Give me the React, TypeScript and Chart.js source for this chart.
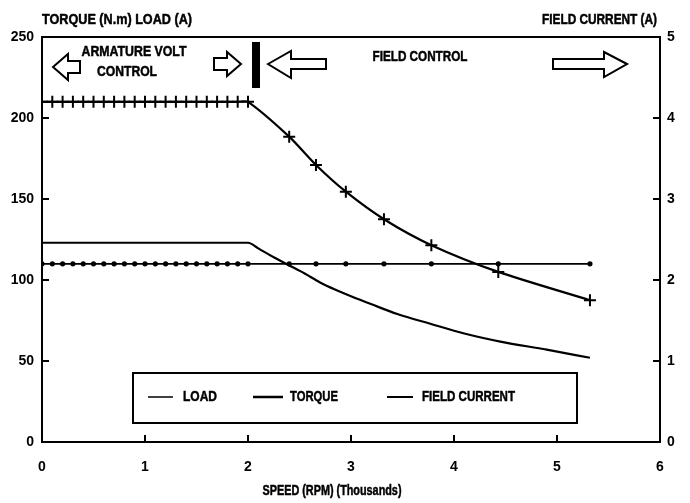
import React, { useEffect, useRef } from "react";
import { Chart, registerables } from "chart.js";

Chart.register(...registerables);

// ---- data ----
const SPEED_K = [
  0, 0.1, 0.2, 0.3, 0.4, 0.5, 0.6, 0.7, 0.8, 0.9, 1.0, 1.1, 1.2, 1.3, 1.4, 1.5, 1.6, 1.7, 1.8, 1.9, 2.0,
  2.4, 2.66, 2.95, 3.32, 3.78, 4.43, 5.32,
];
const LOAD_A = [
  110, 110, 110, 110, 110, 110, 110, 110, 110, 110, 110, 110, 110, 110, 110, 110, 110, 110, 110, 110, 110,
  110, 110, 110, 110, 110, 110, 110,
];
const FIELD_CURRENT_A = [
  4.2, 4.2, 4.2, 4.2, 4.2, 4.2, 4.2, 4.2, 4.2, 4.2, 4.2, 4.2, 4.2, 4.2, 4.2, 4.2, 4.2, 4.2, 4.2, 4.2, 4.2,
  3.77, 3.42, 3.09, 2.75, 2.43, 2.1, 1.75,
];
const TORQUE_SPEED_K = [0, 2.0, 2.1, 2.25, 2.4, 2.55, 2.7, 2.85, 3.0, 3.2, 3.45, 3.77, 4.1, 4.45, 4.9, 5.32];
const TORQUE_NM = [123, 123, 119.5, 114, 109, 104, 98.5, 94, 90, 85, 79, 73, 67, 62, 57, 52];

const X_TICKS = [0, 1, 2, 3, 4, 5, 6];
const LEFT_TICKS = [0, 50, 100, 150, 200, 250];
const RIGHT_TICKS = [0, 1, 2, 3, 4, 5];

const LEGEND_LABELS = ["LOAD", "TORQUE", "FIELD CURRENT"];
const LEFT_TITLE = "TORQUE (N.m) LOAD (A)";
const RIGHT_TITLE = "FIELD CURRENT (A)";
const X_TITLE = "SPEED (RPM) (Thousands)";
const ANNOT_ARM = ["ARMATURE VOLT", "CONTROL"];
const ANNOT_FIELD = "FIELD CONTROL";

const FONT = '"Liberation Sans", Arial, sans-serif';

function poly(ctx: CanvasRenderingContext2D, pts: number[][]) {
  ctx.beginPath();
  ctx.moveTo(pts[0][0], pts[0][1]);
  for (let i = 1; i < pts.length; i++) ctx.lineTo(pts[i][0], pts[i][1]);
  ctx.closePath();
  ctx.fillStyle = "#fff";
  ctx.fill();
  ctx.stroke();
}

function seg(ctx: CanvasRenderingContext2D, x1: number, y1: number, x2: number, y2: number) {
  ctx.beginPath();
  ctx.moveTo(x1, y1);
  ctx.lineTo(x2, y2);
  ctx.stroke();
}

// draw text horizontally condensed to a given width (condensed heavy typeface look)
function fitText(ctx: CanvasRenderingContext2D, s: string, x: number, y: number, align: string, w: number) {
  const m = ctx.measureText(s).width;
  const k = Math.min(1, w / m);
  ctx.save();
  ctx.translate(x, y);
  ctx.scale(k, 1);
  ctx.textAlign = align as CanvasTextAlign;
  ctx.textBaseline = "middle";
  ctx.fillStyle = "#000";
  ctx.strokeStyle = "#000";
  ctx.lineWidth = 0.5;
  ctx.fillText(s, 0, 0);
  ctx.strokeText(s, 0, 0);
  ctx.restore();
}

const overlay = {
  id: "overlay",
  afterDraw(chart: any) {
    const ctx: CanvasRenderingContext2D = chart.ctx;
    const { left, right, top, bottom } = chart.chartArea;
    const sx = chart.scales.x;
    const sy = chart.scales.y;
    const sy1 = chart.scales.y1;
    ctx.save();
    ctx.strokeStyle = "#000";
    ctx.fillStyle = "#000";
    ctx.lineWidth = 2;
    ctx.lineJoin = "miter";
    // top border
    seg(ctx, left - 1, top, right + 1, top);
    // inward ticks
    LEFT_TICKS.slice(1, -1).forEach((v) => {
      const p = sy.getPixelForValue(v);
      seg(ctx, left, p, left + 7, p);
    });
    RIGHT_TICKS.slice(1, -1).forEach((v) => {
      const p = sy1.getPixelForValue(v);
      seg(ctx, right - 7, p, right, p);
    });
    X_TICKS.slice(1, -1).forEach((v) => {
      const p = sx.getPixelForValue(v);
      seg(ctx, p, bottom, p, bottom - 7);
    });

    // titles
    ctx.font = `bold 15px ${FONT}`;
    fitText(ctx, LEFT_TITLE, 42, 20, "left", 150);
    fitText(ctx, RIGHT_TITLE, 657, 20, "right", 115);
    fitText(ctx, X_TITLE, 332, 491, "center", 139);

    // annotations
    fitText(ctx, ANNOT_ARM[0], 134, 52, "center", 105);
    fitText(ctx, ANNOT_ARM[1], 127, 72, "center", 60);
    fitText(ctx, ANNOT_FIELD, 420, 57, "center", 95);

    ctx.lineWidth = 2;
    // left arrow (armature)
    poly(ctx, [[53, 67], [68, 54], [68, 61], [80, 61], [80, 73], [68, 73], [68, 80]]);
    // right arrow (armature)
    poly(ctx, [[241, 64], [227, 52], [227, 58], [214, 58], [214, 70], [227, 70], [227, 76]]);
    // black bar
    ctx.fillStyle = "#000";
    ctx.fillRect(252, 42, 8, 46);
    // left arrow (field)
    poly(ctx, [[268, 64], [291, 51], [291, 59], [326, 59], [326, 69], [291, 69], [291, 78]]);
    // right arrow (field)
    poly(ctx, [[627, 64], [604, 52], [604, 59], [553, 59], [553, 69], [604, 69], [604, 77]]);

    // legend
    ctx.lineWidth = 2;
    ctx.strokeRect(133, 373, 444, 50);
    ctx.font = `bold 15px ${FONT}`;
    const ly = 397;
    ctx.lineWidth = 1.5;
    seg(ctx, 148, ly, 173, ly);
    fitText(ctx, LEGEND_LABELS[0], 183, ly, "left", 34);
    ctx.lineWidth = 2.5;
    seg(ctx, 253, ly, 283, ly);
    fitText(ctx, LEGEND_LABELS[1], 290, ly, "left", 48);
    ctx.lineWidth = 2;
    seg(ctx, 387, ly, 413, ly);
    fitText(ctx, LEGEND_LABELS[2], 422, ly, "left", 93);
    ctx.restore();
  },
};

export default function App() {
  const ref = useRef<HTMLCanvasElement | null>(null);
  useEffect(() => {
    document.body.style.margin = "0";
    const canvas = ref.current;
    if (!canvas) return;
    Chart.defaults.font.family = FONT;
    const tickFont = { size: 14, weight: "bold" as const };
    const chart = new Chart(canvas, {
      type: "line",
      data: {
        datasets: [
          {
            label: LEGEND_LABELS[0],
            data: SPEED_K.map((x, i) => ({ x, y: LOAD_A[i] })),
            yAxisID: "y",
            borderColor: "#000",
            backgroundColor: "#000",
            borderWidth: 1.8,
            pointStyle: "circle",
            pointRadius: 2.6,
            pointBorderWidth: 0,
            tension: 0,
          },
          {
            label: LEGEND_LABELS[1],
            data: TORQUE_SPEED_K.map((x, i) => ({ x, y: TORQUE_NM[i] })),
            yAxisID: "y",
            borderColor: "#000",
            borderWidth: 2.2,
            pointRadius: 0,
            cubicInterpolationMode: "monotone",
          },
          {
            label: LEGEND_LABELS[2],
            data: SPEED_K.map((x, i) => ({ x, y: FIELD_CURRENT_A[i] })),
            yAxisID: "y1",
            borderColor: "#000",
            backgroundColor: "#000",
            borderWidth: 2.2,
            pointStyle: "cross",
            pointRadius: 6,
            pointBorderWidth: 2,
            tension: 0.25,
          },
        ],
      },
      options: {
        animation: false,
        responsive: false,
        layout: { padding: { top: 37, left: 0, right: 0, bottom: 0 } },
        plugins: { legend: { display: false }, tooltip: { enabled: false } },
        scales: {
          x: {
            type: "linear",
            min: 0,
            max: 6,
            afterFit: (s: any) => {
              s.height = 61;
            },
            afterBuildTicks: (s: any) => {
              s.ticks = X_TICKS.map((v) => ({ value: v }));
            },
            grid: { display: false, drawTicks: false },
            border: { display: true, color: "#000", width: 2 },
            ticks: { color: "#000", font: tickFont, padding: 17 },
          },
          y: {
            type: "linear",
            position: "left",
            min: 0,
            max: 250,
            afterFit: (s: any) => {
              s.width = 42;
            },
            afterBuildTicks: (s: any) => {
              s.ticks = LEFT_TICKS.map((v) => ({ value: v }));
            },
            grid: { display: false, drawTicks: false },
            border: { display: true, color: "#000", width: 2 },
            ticks: { color: "#000", font: tickFont, padding: 8 },
          },
          y1: {
            type: "linear",
            position: "right",
            min: 0,
            max: 5,
            afterFit: (s: any) => {
              s.width = 30;
            },
            afterBuildTicks: (s: any) => {
              s.ticks = RIGHT_TICKS.map((v) => ({ value: v }));
            },
            grid: { display: false, drawTicks: false },
            border: { display: true, color: "#000", width: 2 },
            ticks: { color: "#000", font: tickFont, padding: 7 },
          },
        },
      },
      plugins: [overlay],
    } as any);
    return () => chart.destroy();
  }, []);
  return (
    <div style={{ position: "absolute", left: 0, top: 0, width: 690, height: 503, background: "#fff" }}>
      <canvas ref={ref} width={690} height={503} />
    </div>
  );
}
